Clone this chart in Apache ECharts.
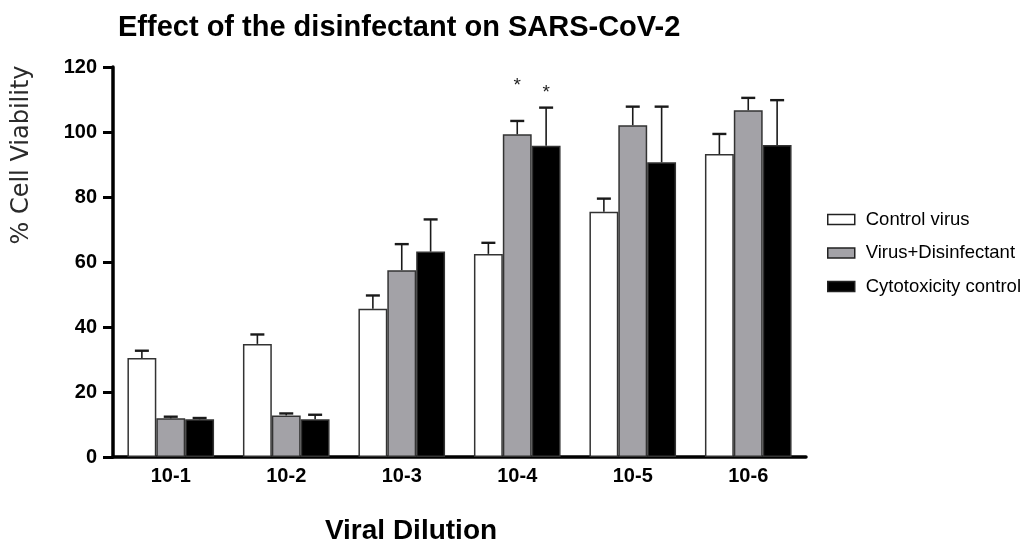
<!DOCTYPE html>
<html>
<head>
<meta charset="utf-8">
<script src="https://cdn.jsdelivr.net/npm/echarts@6/dist/echarts.min.js"></script>
<style>
  html, body { margin: 0; padding: 0; background: #ffffff; }
  #chart { width: 1031px; height: 543px; }
</style>
</head>
<body>
<div id="chart"></div>
<script>
// ---- data ----
var categories = ['10-1', '10-2', '10-3', '10-4', '10-5', '10-6'];
var seriesNames = ['Control virus', 'Virus+Disinfectant', 'Cytotoxicity control'];
var controlVirus = [30.5, 34.8, 45.6, 62.5, 75.5, 93.2];
var controlVirusErr = [2.2, 2.9, 4.1, 3.4, 4.0, 6.2];
var virusDisinfectant = [11.9, 12.8, 57.5, 99.3, 102.1, 106.7];
var virusDisinfectantErr = [0.5, 0.6, 8.0, 4.1, 5.7, 3.8];
var cytotoxicity = [11.6, 11.6, 63.2, 95.8, 90.7, 96.0];
var cytotoxicityErr = [0.4, 1.4, 9.9, 11.7, 17.1, 13.8];
var yTicks = [0, 20, 40, 60, 80, 100, 120];
// significance marks: category, series index, value where the mark sits
var starCategory = ['10-4', '10-4'];
var starSeries = [1, 2];
var starValue = [114.7, 112.6];
var starText = ['*', '*'];

var FONT = '"Liberation Sans", Arial, sans-serif';
var fills = ['#ffffff', '#a3a2a7', '#000000'];
var means = [controlVirus, virusDisinfectant, cytotoxicity];
var errs = [controlVirusErr, virusDisinfectantErr, cytotoxicityErr];
var CAT_GAP = 0.25;

function barOffset(api, s) {
  var band = api.size([1, 0])[0];
  var bw = band * (1 - CAT_GAP) / 3;
  return (s - 1) * bw;
}

var series = [];
seriesNames.forEach(function (name, s) {
  series.push({
    name: name,
    type: 'bar',
    data: means[s],
    barGap: '0%',
    barCategoryGap: (CAT_GAP * 100) + '%',
    itemStyle: { color: fills[s], borderColor: '#333333', borderWidth: 1.5 },
    z: 2
  });
});
seriesNames.forEach(function (name, s) {
  series.push({
    type: 'custom',
    name: name + ' SD',
    z: 3,
    silent: true,
    data: categories.map(function (c, i) { return [i, means[s][i], errs[s][i]]; }),
    encode: { x: 0, y: 1 },
    renderItem: function (params, api) {
      var i = api.value(0), m = api.value(1), e = api.value(2);
      var p0 = api.coord([i, m]);
      var p1 = api.coord([i, m + e]);
      var x = p0[0] + barOffset(api, s);
      var half = 7;
      return {
        type: 'group',
        children: [
          { type: 'line', shape: { x1: x, y1: p0[1], x2: x, y2: p1[1] },
            style: { stroke: '#1a1a1a', lineWidth: 1.6 } },
          { type: 'line', shape: { x1: x - half, y1: p1[1], x2: x + half, y2: p1[1] },
            style: { stroke: '#1a1a1a', lineWidth: 2.4 } }
        ]
      };
    }
  });
});
series.push({
  type: 'custom',
  name: 'significance',
  z: 4,
  silent: true,
  data: starCategory.map(function (c, k) {
    return [categories.indexOf(c), starValue[k], starSeries[k]];
  }),
  encode: { x: 0, y: 1 },
  renderItem: function (params, api) {
    var p = api.coord([api.value(0), api.value(1)]);
    var s = api.value(2);
    return {
      type: 'text',
      style: {
        text: starText[params.dataIndex],
        x: p[0] + barOffset(api, s),
        y: p[1] + 2,
        textAlign: 'center',
        textVerticalAlign: 'middle',
        fontSize: 19,
        fontFamily: FONT,
        fill: '#222222'
      }
    };
  }
});

var chart = echarts.init(document.getElementById('chart'), null, { renderer: 'canvas' });
chart.setOption({
  backgroundColor: '#ffffff',
  animation: false,
  title: {
    text: 'Effect of the disinfectant on SARS-CoV-2',
    left: 113,
    top: 8,
    textStyle: { fontFamily: FONT, fontWeight: 'bold', fontSize: 29, color: '#000000' }
  },
  legend: {
    data: seriesNames,
    orient: 'vertical',
    left: 822,
    top: 205,
    itemWidth: 27,
    itemHeight: 10,
    itemGap: 14.5,
    icon: 'rect',
    selectedMode: false,
    itemStyle: { borderColor: '#222222', borderWidth: 1.5 },
    textStyle: { fontFamily: FONT, fontSize: 18.5, color: '#000000', padding: [0, 0, 0, 6] }
  },
  grid: { left: 113, right: 225, top: 67, bottom: 86, containLabel: false, outerBoundsMode: 'none' },
  xAxis: {
    type: 'category',
    data: categories,
    name: 'Viral Dilution',
    nameLocation: 'middle',
    nameGap: 60,
    nameTextStyle: { fontFamily: FONT, fontWeight: 'bold', fontSize: 28, color: '#000000', padding: [0, 97, 0, 0] },
    axisLine: { lineStyle: { color: '#000000', width: 3.5 } },
    axisTick: { alignWithLabel: true, length: 8, lineStyle: { color: '#000000', width: 3 } },
    axisLabel: { fontFamily: FONT, fontWeight: 'bold', fontSize: 20, color: '#000000', margin: 9 },
    splitLine: { show: false }
  },
  yAxis: {
    type: 'value',
    min: yTicks[0],
    max: yTicks[yTicks.length - 1],
    interval: yTicks[1] - yTicks[0],
    name: '% Cell Viability',
    nameLocation: 'middle',
    nameRotate: 90,
    nameGap: 79,
    nameTextStyle: { fontFamily: '"DejaVu Sans", sans-serif', fontSize: 24, color: '#2a2a2a', padding: [0, 0, 0, 214] },
    axisLine: { show: true, lineStyle: { color: '#000000', width: 3.5 } },
    axisTick: { show: true, length: 10, lineStyle: { color: '#000000', width: 3 } },
    axisLabel: { fontFamily: FONT, fontWeight: 'bold', fontSize: 20, color: '#000000', margin: 16 },
    splitLine: { show: false }
  },
  series: series
});
</script>
</body>
</html>
